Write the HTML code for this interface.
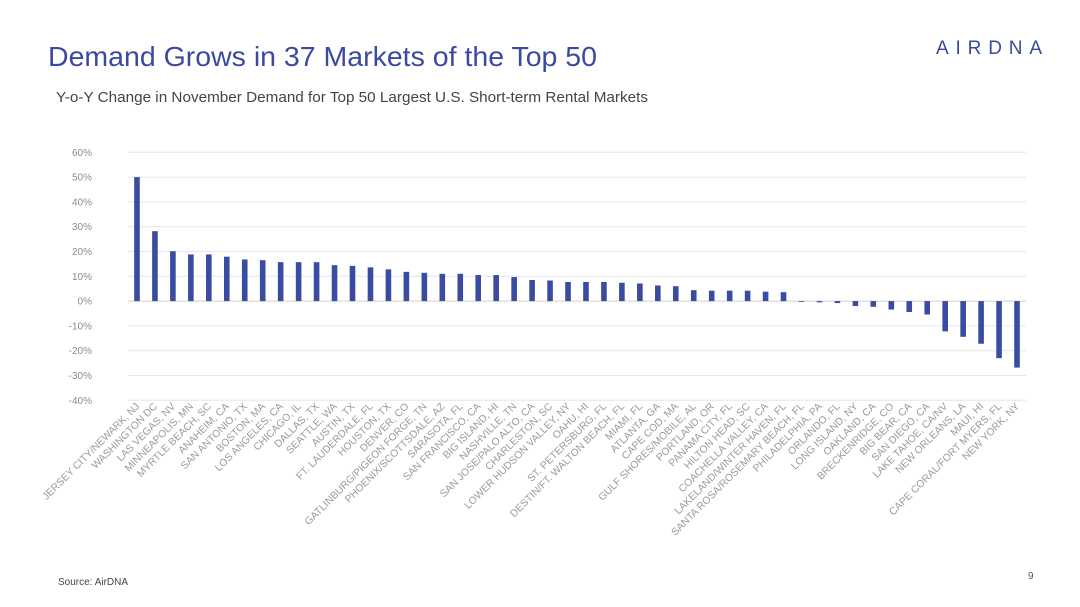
<!DOCTYPE html>
<html><head><meta charset="utf-8"><style>
body{margin:0;background:#fff;}
svg{display:block;font-family:"Liberation Sans",sans-serif;}
</style></head><body>
<svg id="chart" width="1080" height="607" viewBox="0 0 1080 607">
<text x="48" y="66" font-size="28" fill="#3b4a9e" textLength="549" lengthAdjust="spacingAndGlyphs">Demand Grows in 37 Markets of the Top 50</text>
<text x="56" y="102" font-size="15" fill="#444" textLength="592" lengthAdjust="spacingAndGlyphs">Y-o-Y Change in November Demand for Top 50 Largest U.S. Short-term Rental Markets</text>
<text x="936" y="54" font-size="19" fill="#3b4a9e" textLength="106" lengthAdjust="spacing">AIRDNA</text>
<text x="1028" y="579" font-size="10" fill="#555">9</text>
<text x="58" y="585" font-size="10" fill="#444">Source: AirDNA</text>
<g id="grid"></g><g id="bars"></g><g id="labels"></g>
</svg>
<script>
const categories=["JERSEY CITY/NEWARK, NJ","WASHINGTON DC","LAS VEGAS, NV","MINNEAPOLIS, MN","MYRTLE BEACH, SC","ANAHEIM, CA","SAN ANTONIO, TX","BOSTON, MA","LOS ANGELES, CA","CHICAGO, IL","DALLAS, TX","SEATTLE, WA","AUSTIN, TX","FT. LAUDERDALE, FL","HOUSTON, TX","DENVER, CO","GATLINBURG/PIGEON FORGE, TN","PHOENIX/SCOTTSDALE, AZ","SARASOTA, FL","SAN FRANCISCO, CA","BIG ISLAND, HI","NASHVILLE, TN","SAN JOSE/PALO ALTO, CA","CHARLESTON, SC","LOWER HUDSON VALLEY, NY","OAHU, HI","ST. PETERSBURG, FL","DESTIN/FT. WALTON BEACH, FL","MIAMI, FL","ATLANTA, GA","CAPE COD, MA","GULF SHORES/MOBILE, AL","PORTLAND, OR","PANAMA CITY, FL","HILTON HEAD, SC","COACHELLA VALLEY, CA","LAKELAND/WINTER HAVEN, FL","SANTA ROSA/ROSEMARY BEACH, FL","PHILADELPHIA, PA","ORLANDO, FL","LONG ISLAND, NY","OAKLAND, CA","BRECKENRIDGE, CO","BIG BEAR, CA","SAN DIEGO, CA","LAKE TAHOE, CA/NV","NEW ORLEANS, LA","MAUI, HI","CAPE CORAL/FORT MYERS, FL","NEW YORK, NY"];
const values=[50,28.2,20.1,18.8,18.8,17.9,16.8,16.5,15.7,15.7,15.7,14.5,14.2,13.6,12.8,11.8,11.4,11.0,11.0,10.5,10.5,9.7,8.5,8.3,7.7,7.7,7.7,7.4,7.1,6.3,6.0,4.4,4.2,4.2,4.2,3.8,3.6,-0.3,-0.5,-0.8,-2.0,-2.3,-3.4,-4.4,-5.4,-12.2,-14.4,-17.2,-23,-26.8];
const ticks=[60,50,40,30,20,10,0,-10,-20,-30,-40];
const tickLabels=["60%","50%","40%","30%","20%","10%","0%","-10%","-20%","-30%","-40%"];
const NS="http://www.w3.org/2000/svg";
const x0=128,x1=1026,yTop=152.3,yBot=400.3,vMax=60,vMin=-40;
const y=v=>yTop+(vMax-v)/(vMax-vMin)*(yBot-yTop);
const band=(x1-x0)/categories.length;
const xc=i=>x0+band*(i+0.5);
function mk(t,a,p){const e=document.createElementNS(NS,t);for(const k in a)e.setAttribute(k,a[k]);p.appendChild(e);return e;}
const grid=document.getElementById('grid'),bars=document.getElementById('bars'),labels=document.getElementById('labels');
ticks.forEach((t,i)=>{
  const l=mk('line',{x1:x0,x2:x1,y1:y(t),y2:y(t),stroke:t===0?'#d0d0d0':'#e6e6e6','stroke-width':1},grid);
  
  
  const tx=mk('text',{x:92,y:y(t)+3.5,'font-size':10,fill:'#8c8c8c','text-anchor':'end'},grid);
  tx.textContent=tickLabels[i];
  
  
});
values.forEach((v,i)=>{
  const top=Math.min(y(v),y(0)),h=Math.max(Math.abs(y(v)-y(0)),0.8);
  const r=mk('rect',{x:xc(i)-2.8,y:top,width:5.6,height:h,fill:'#3a4ca1'},bars);
  
  
  const tx=mk('text',{x:xc(i)+3,y:407,'font-size':10.3,fill:'#9a9a9a','text-anchor':'end',transform:`rotate(-45 ${xc(i)+3} 407)`},labels);
  tx.textContent=categories[i];
  
  
});
</script>
</body></html>
